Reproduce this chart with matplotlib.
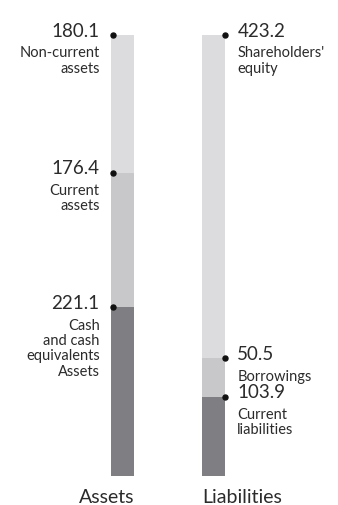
import matplotlib.pyplot as plt

# balance sheet figures
assets_labels = ['Cash\nand cash\nequivalents\nAssets', 'Current\nassets', 'Non-current\nassets']
assets_vals = [221.1, 176.4, 180.1]
liab_labels = ['Current\nliabilities', 'Borrowings', "Shareholders'\nequity"]
liab_vals = [103.9, 50.5, 423.2]
seg_colors = ['#7f7f83', '#c8c8ca', '#dcdcde']

plt.rcParams['font.family'] = ['Lato', 'DejaVu Sans']
txt = '#2b2b2b'

fig = plt.figure(figsize=(3.38, 5.06), dpi=100)
ax = fig.add_axes([0, 0, 1, 1])
total = sum(assets_vals)
s = 441 / total  # px per unit
ax.set_xlim(0, 338)
ax.set_ylim(-(506 - 477) / s, total + 36 / s)
ax.axis('off')

def stack(xc, vals, labels, side):
    bottom = 0
    for v, lab, c in zip(vals, labels, seg_colors):
        ax.bar(xc, v, width=23, bottom=bottom, color=c, linewidth=0)
        top = bottom + v
        if side == 'left':
            dx, ha, off = xc - 10, 'right', -9.2
        else:
            dx, ha, off = xc + 11, 'left', 9.2
        ax.plot(dx, top, 'o', color='#111111', markersize=3.6, zorder=5)
        ax.annotate(f'{v}', (dx, top), xytext=(off, -0.5), textcoords='offset points',
                    ha=ha, va='baseline', fontsize=13.5, color=txt)
        ax.annotate(lab, (dx, top), xytext=(off, -7.5), textcoords='offset points',
                    ha=ha, va='top', fontsize=10.5, color=txt, linespacing=1.12)
        bottom = top

stack(122.5, assets_vals, assets_labels, 'left')
stack(213.5, liab_vals, liab_labels, 'right')

ax.annotate('Assets', (134, 0), xytext=(0, -18.5), textcoords='offset points',
            ha='right', va='baseline', fontsize=14, color=txt)
ax.annotate('Liabilities', (202, 0), xytext=(0, -18.5), textcoords='offset points',
            ha='left', va='baseline', fontsize=14, color=txt)

fig.savefig('out.png', dpi=100, facecolor='white')
